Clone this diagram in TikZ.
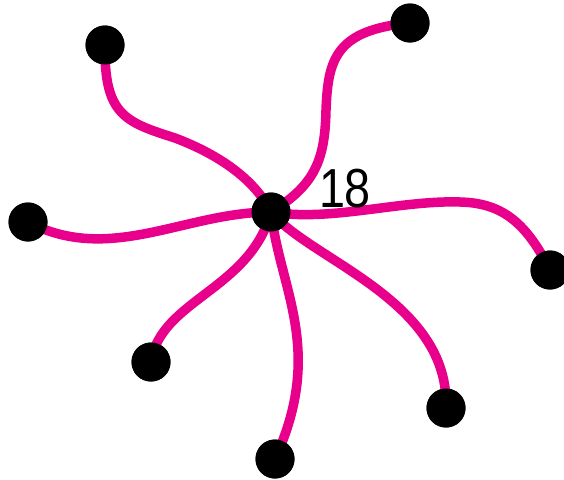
\documentclass[tikz,border=0pt]{standalone}
\usepackage{fontspec}
\setmainfont{Liberation Sans}
\definecolor{edgepink}{RGB}{232,0,140}
\begin{document}
\begin{tikzpicture}[x=1pt,y=-1pt,
  dot/.style={circle,fill=black,inner sep=0pt,minimum size=39pt},
  link/.style={draw=edgepink,line width=9.5pt}]
\useasboundingbox (0,0) rectangle (564,479);
\node[dot] (c) at (271,212) {};
\node[dot] (a1) at (105,45) {};
\node[dot] (a2) at (410,23) {};
\node[dot] (a3) at (28,222) {};
\node[dot] (a4) at (550,270) {};
\node[dot] (a5) at (151,362) {};
\node[dot] (a6) at (446,408) {};
\node[dot] (a7) at (275,459) {};
\path[link] (c.center) .. controls (255,180) and (220,155) .. (175,138)
  .. controls (125,122) and (104,115) .. (a1.center);
\path[link] (c.center) .. controls (315,185) and (325,160) .. (326,110)
  .. controls (328,60) and (335,30) .. (a2.center);
\path[link] (c.center) .. controls (185,212) and (110,265) .. (a3.center);
\path[link] (c.center) .. controls (330,222) and (400,200) .. (460,202)
  .. controls (500,203) and (525,220) .. (a4.center);
\path[link] (c.center) .. controls (250,290) and (160,300) .. (a5.center);
\path[link] (c.center) .. controls (310,260) and (450,300) .. (a6.center);
\path[link] (c.center) .. controls (280,290) and (325,350) .. (a7.center);
\foreach \n in {c,a1,a2,a3,a4,a5,a6,a7} \fill (\n) circle (19.5pt);
\node[font=\fontsize{55}{55}\selectfont,inner sep=0pt] (lbl) at (345,189) {\scalebox{0.85}[1]{18}};
\end{tikzpicture}
\end{document}
